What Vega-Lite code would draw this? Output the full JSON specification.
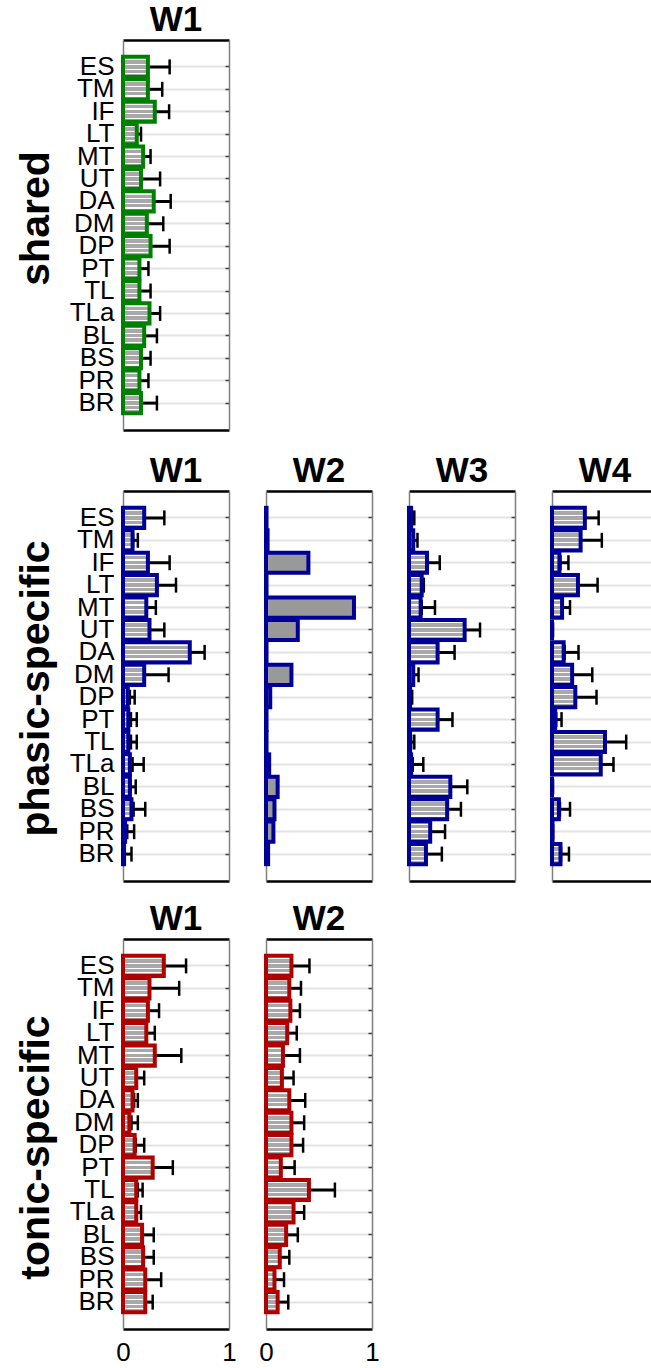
{
  "$schema": "https://vega.github.io/schema/vega-lite/v6.json",
  "padding": {"left": 15, "top": 3, "right": 0, "bottom": 0},
  "config": {"font": "Liberation Sans", "view": {"stroke": null}},
  "data": {"values": [
    {"g":"s","w":"W1","m":"ES","v":0.235,"lo":0.03,"hi":0.44},
    {"g":"s","w":"W1","m":"TM","v":0.235,"lo":0.1,"hi":0.37},
    {"g":"s","w":"W1","m":"IF","v":0.3,"lo":0.165,"hi":0.435},
    {"g":"s","w":"W1","m":"LT","v":0.13,"lo":0.09,"hi":0.17},
    {"g":"s","w":"W1","m":"MT","v":0.19,"lo":0.12,"hi":0.26},
    {"g":"s","w":"W1","m":"UT","v":0.17,"lo":0.0,"hi":0.35},
    {"g":"s","w":"W1","m":"DA","v":0.29,"lo":0.13,"hi":0.45},
    {"g":"s","w":"W1","m":"DM","v":0.225,"lo":0.07,"hi":0.38},
    {"g":"s","w":"W1","m":"DP","v":0.26,"lo":0.08,"hi":0.44},
    {"g":"s","w":"W1","m":"PT","v":0.155,"lo":0.07,"hi":0.24},
    {"g":"s","w":"W1","m":"TL","v":0.155,"lo":0.05,"hi":0.26},
    {"g":"s","w":"W1","m":"TLa","v":0.25,"lo":0.15,"hi":0.35},
    {"g":"s","w":"W1","m":"BL","v":0.2,"lo":0.08,"hi":0.32},
    {"g":"s","w":"W1","m":"BS","v":0.17,"lo":0.08,"hi":0.26},
    {"g":"s","w":"W1","m":"PR","v":0.155,"lo":0.07,"hi":0.24},
    {"g":"s","w":"W1","m":"BR","v":0.17,"lo":0.02,"hi":0.32},

    {"g":"p","w":"W1","m":"ES","v":0.2,"lo":0.01,"hi":0.39},
    {"g":"p","w":"W1","m":"TM","v":0.09,"lo":0.095,"hi":0.14},
    {"g":"p","w":"W1","m":"IF","v":0.235,"lo":0.03,"hi":0.44},
    {"g":"p","w":"W1","m":"LT","v":0.32,"lo":0.14,"hi":0.5},
    {"g":"p","w":"W1","m":"MT","v":0.22,"lo":0.13,"hi":0.31},
    {"g":"p","w":"W1","m":"UT","v":0.25,"lo":0.11,"hi":0.39},
    {"g":"p","w":"W1","m":"DA","v":0.63,"lo":0.49,"hi":0.77},
    {"g":"p","w":"W1","m":"DM","v":0.2,"lo":0.0,"hi":0.43},
    {"g":"p","w":"W1","m":"DP","v":0.045,"lo":0.065,"hi":0.11},
    {"g":"p","w":"W1","m":"PT","v":0.05,"lo":0.075,"hi":0.13},
    {"g":"p","w":"W1","m":"TL","v":0.05,"lo":0.075,"hi":0.13},
    {"g":"p","w":"W1","m":"TLa","v":0.065,"lo":0.09,"hi":0.195},
    {"g":"p","w":"W1","m":"BL","v":0.065,"lo":0.07,"hi":0.12},
    {"g":"p","w":"W1","m":"BS","v":0.08,"lo":0.1,"hi":0.21},
    {"g":"p","w":"W1","m":"PR","v":0.02,"lo":0.04,"hi":0.105},
    {"g":"p","w":"W1","m":"BR","v":0.01,"lo":0.015,"hi":0.08},

    {"g":"p","w":"W2","m":"ES","v":0.005,"lo":null,"hi":null},
    {"g":"p","w":"W2","m":"TM","v":0.015,"lo":null,"hi":null},
    {"g":"p","w":"W2","m":"IF","v":0.40,"lo":null,"hi":null},
    {"g":"p","w":"W2","m":"LT","v":0.005,"lo":null,"hi":null},
    {"g":"p","w":"W2","m":"MT","v":0.83,"lo":null,"hi":null},
    {"g":"p","w":"W2","m":"UT","v":0.30,"lo":null,"hi":null},
    {"g":"p","w":"W2","m":"DA","v":0.005,"lo":null,"hi":null},
    {"g":"p","w":"W2","m":"DM","v":0.24,"lo":null,"hi":null},
    {"g":"p","w":"W2","m":"DP","v":0.04,"lo":null,"hi":null},
    {"g":"p","w":"W2","m":"PT","v":0.005,"lo":null,"hi":null},
    {"g":"p","w":"W2","m":"TL","v":0.005,"lo":null,"hi":null},
    {"g":"p","w":"W2","m":"TLa","v":0.03,"lo":null,"hi":null},
    {"g":"p","w":"W2","m":"BL","v":0.11,"lo":null,"hi":null},
    {"g":"p","w":"W2","m":"BS","v":0.08,"lo":null,"hi":null},
    {"g":"p","w":"W2","m":"PR","v":0.07,"lo":null,"hi":null},
    {"g":"p","w":"W2","m":"BR","v":0.02,"lo":null,"hi":null},

    {"g":"p","w":"W3","m":"ES","v":0.02,"lo":0.02,"hi":0.05},
    {"g":"p","w":"W3","m":"TM","v":0.04,"lo":0.045,"hi":0.08},
    {"g":"p","w":"W3","m":"IF","v":0.17,"lo":0.05,"hi":0.29},
    {"g":"p","w":"W3","m":"LT","v":0.12,"lo":0.1,"hi":0.14},
    {"g":"p","w":"W3","m":"MT","v":0.11,"lo":0.12,"hi":0.245},
    {"g":"p","w":"W3","m":"UT","v":0.525,"lo":0.38,"hi":0.67},
    {"g":"p","w":"W3","m":"DA","v":0.27,"lo":0.11,"hi":0.43},
    {"g":"p","w":"W3","m":"DM","v":0.04,"lo":0.045,"hi":0.09},
    {"g":"p","w":"W3","m":"DP","v":0.01,"lo":0.01,"hi":0.03},
    {"g":"p","w":"W3","m":"PT","v":0.27,"lo":0.13,"hi":0.41},
    {"g":"p","w":"W3","m":"TL","v":0.01,"lo":0.02,"hi":0.05},
    {"g":"p","w":"W3","m":"TLa","v":0.02,"lo":0.035,"hi":0.135},
    {"g":"p","w":"W3","m":"BL","v":0.39,"lo":0.23,"hi":0.55},
    {"g":"p","w":"W3","m":"BS","v":0.36,"lo":0.23,"hi":0.49},
    {"g":"p","w":"W3","m":"PR","v":0.20,"lo":0.06,"hi":0.34},
    {"g":"p","w":"W3","m":"BR","v":0.16,"lo":0.01,"hi":0.31},

    {"g":"p","w":"W4","m":"ES","v":0.31,"lo":0.18,"hi":0.44},
    {"g":"p","w":"W4","m":"TM","v":0.27,"lo":0.07,"hi":0.47},
    {"g":"p","w":"W4","m":"IF","v":0.07,"lo":0.08,"hi":0.155},
    {"g":"p","w":"W4","m":"LT","v":0.245,"lo":0.06,"hi":0.43},
    {"g":"p","w":"W4","m":"MT","v":0.095,"lo":0.1,"hi":0.17},
    {"g":"p","w":"W4","m":"UT","v":0.0,"lo":0.0,"hi":0.01},
    {"g":"p","w":"W4","m":"DA","v":0.11,"lo":0.12,"hi":0.25},
    {"g":"p","w":"W4","m":"DM","v":0.19,"lo":0.0,"hi":0.38},
    {"g":"p","w":"W4","m":"DP","v":0.22,"lo":0.02,"hi":0.42},
    {"g":"p","w":"W4","m":"PT","v":0.03,"lo":0.04,"hi":0.09},
    {"g":"p","w":"W4","m":"TL","v":0.50,"lo":0.30,"hi":0.70},
    {"g":"p","w":"W4","m":"TLa","v":0.46,"lo":0.34,"hi":0.58},
    {"g":"p","w":"W4","m":"BL","v":0.0,"lo":0.0,"hi":0.01},
    {"g":"p","w":"W4","m":"BS","v":0.065,"lo":0.075,"hi":0.17},
    {"g":"p","w":"W4","m":"PR","v":0.005,"lo":0.0,"hi":0.01},
    {"g":"p","w":"W4","m":"BR","v":0.08,"lo":0.085,"hi":0.16},

    {"g":"t","w":"W1","m":"ES","v":0.385,"lo":0.175,"hi":0.595},
    {"g":"t","w":"W1","m":"TM","v":0.25,"lo":0.0,"hi":0.53},
    {"g":"t","w":"W1","m":"IF","v":0.235,"lo":0.13,"hi":0.34},
    {"g":"t","w":"W1","m":"LT","v":0.22,"lo":0.14,"hi":0.30},
    {"g":"t","w":"W1","m":"MT","v":0.3,"lo":0.05,"hi":0.55},
    {"g":"t","w":"W1","m":"UT","v":0.125,"lo":0.13,"hi":0.2},
    {"g":"t","w":"W1","m":"DA","v":0.09,"lo":0.105,"hi":0.14},
    {"g":"t","w":"W1","m":"DM","v":0.06,"lo":0.08,"hi":0.14},
    {"g":"t","w":"W1","m":"DP","v":0.11,"lo":0.12,"hi":0.2},
    {"g":"t","w":"W1","m":"PT","v":0.28,"lo":0.09,"hi":0.47},
    {"g":"t","w":"W1","m":"TL","v":0.125,"lo":0.14,"hi":0.185},
    {"g":"t","w":"W1","m":"TLa","v":0.125,"lo":0.13,"hi":0.17},
    {"g":"t","w":"W1","m":"BL","v":0.18,"lo":0.07,"hi":0.29},
    {"g":"t","w":"W1","m":"BS","v":0.19,"lo":0.09,"hi":0.29},
    {"g":"t","w":"W1","m":"PR","v":0.21,"lo":0.06,"hi":0.36},
    {"g":"t","w":"W1","m":"BR","v":0.21,"lo":0.14,"hi":0.28},

    {"g":"t","w":"W2","m":"ES","v":0.24,"lo":0.07,"hi":0.41},
    {"g":"t","w":"W2","m":"TM","v":0.22,"lo":0.11,"hi":0.33},
    {"g":"t","w":"W2","m":"IF","v":0.23,"lo":0.14,"hi":0.32},
    {"g":"t","w":"W2","m":"LT","v":0.2,"lo":0.11,"hi":0.29},
    {"g":"t","w":"W2","m":"MT","v":0.16,"lo":0.0,"hi":0.32},
    {"g":"t","w":"W2","m":"UT","v":0.15,"lo":0.04,"hi":0.26},
    {"g":"t","w":"W2","m":"DA","v":0.22,"lo":0.07,"hi":0.37},
    {"g":"t","w":"W2","m":"DM","v":0.24,"lo":0.12,"hi":0.36},
    {"g":"t","w":"W2","m":"DP","v":0.24,"lo":0.13,"hi":0.35},
    {"g":"t","w":"W2","m":"PT","v":0.14,"lo":0.01,"hi":0.27},
    {"g":"t","w":"W2","m":"TL","v":0.405,"lo":0.16,"hi":0.65},
    {"g":"t","w":"W2","m":"TLa","v":0.26,"lo":0.16,"hi":0.36},
    {"g":"t","w":"W2","m":"BL","v":0.19,"lo":0.08,"hi":0.30},
    {"g":"t","w":"W2","m":"BS","v":0.13,"lo":0.04,"hi":0.22},
    {"g":"t","w":"W2","m":"PR","v":0.08,"lo":0.0,"hi":0.17},
    {"g":"t","w":"W2","m":"BR","v":0.11,"lo":0.01,"hi":0.21}
  ]},
  "spacing": 24,
  "vconcat": [
    {"hconcat": [
      {"width": 106, "height": 390,
       "title": {"text": "W1", "fontSize": 35, "fontWeight": "bold", "color": "black", "offset": 2},
       "transform": [{"filter": "datum.g == 's' && datum.w == 'W1'"}],
       "layer": [
         {"mark": {"type": "rule", "color": "black", "strokeWidth": 3},
          "encoding": {
            "x": {"field": "lo", "type": "quantitative", "scale": {"domain": [0, 1], "nice": false, "zero": false}, "axis": {"orient": "top", "labels": false, "ticks": false, "grid": false, "domainColor": "black", "domainWidth": 2.5, "title": null}},
            "x2": {"field": "hi"},
            "y": {"field": "m", "type": "nominal", "sort": null, "scale": {"domain": ["ES","TM","IF","LT","MT","UT","DA","DM","DP","PT","TL","TLa","BL","BS","PR","BR"], "paddingOuter": 0.7, "paddingInner": 0}, "axis": {"orient": "right", "labels": false, "domain": true, "domainColor": "#7f7f7f", "domainWidth": 1.5, "grid": false, "ticks": true, "tickSize": -4, "tickColor": "#404040", "tickWidth": 1.5, "title": null}}}},
         {"mark": {"type": "tick", "color": "black", "thickness": 2.5, "size": 15, "opacity": 1},
          "encoding": {"x": {"field": "hi", "type": "quantitative", "axis": null}, "y": {"field": "m", "type": "nominal", "sort": null, "axis": null}}},
         {"mark": {"type": "tick", "color": "black", "thickness": 2.5, "size": 15, "opacity": 1},
          "encoding": {"x": {"field": "lo", "type": "quantitative", "axis": null}, "y": {"field": "m", "type": "nominal", "sort": null, "axis": null}}},
         {"mark": {"type": "bar", "stroke": "#008000", "strokeWidth": 4, "height": {"band": 0.9},
                   "fill": {"gradient": "linear", "x1": 0, "y1": 0, "x2": 0, "y2": 1, "stops": [
                     {"offset": 0, "color": "#ffffff"}, {"offset": 0.16, "color": "#ffffff"}, {"offset": 0.16, "color": "#a8a8a8"}, {"offset": 0.34, "color": "#a8a8a8"}, {"offset": 0.34, "color": "#ffffff"}, {"offset": 0.40, "color": "#ffffff"}, {"offset": 0.40, "color": "#a8a8a8"}, {"offset": 0.58, "color": "#a8a8a8"}, {"offset": 0.58, "color": "#ffffff"}, {"offset": 0.63, "color": "#ffffff"}, {"offset": 0.63, "color": "#a8a8a8"}, {"offset": 0.80, "color": "#a8a8a8"}, {"offset": 0.80, "color": "#ffffff"}, {"offset": 0.86, "color": "#ffffff"}, {"offset": 0.86, "color": "#a8a8a8"}, {"offset": 1, "color": "#a8a8a8"}]}},
          "encoding": {
            "x": {"field": "v", "type": "quantitative", "axis": {"orient": "bottom", "labels": false, "ticks": false, "grid": false, "domainColor": "black", "domainWidth": 2.5, "title": null}},
            "y": {"field": "m", "type": "nominal", "sort": null, "axis": {"orient": "left", "labelFontSize": 26, "labelColor": "black", "labelPadding": 9, "ticks": false, "tickSize": 0, "domainColor": "#7f7f7f", "domainWidth": 1.5, "grid": true, "gridColor": "#e3e3e3", "gridWidth": 2, "bandPosition": 0.5, "title": "shared", "titleFontSize": 41, "titleFontWeight": "bold", "titleColor": "black", "titleX": -75, "titleY": 178, "titleBaseline": "alphabetic", "titleAlign": "center", "titleAngle": -90}}}}
       ],
       "resolve": {"axis": {"x": "independent", "y": "independent"}}}
    ]},
    {"spacing": 21, "vconcat": [
    {"spacing": 37, "bounds": "flush", "hconcat": [
      {"width": 106, "height": 390,
       "title": {"text": "W1", "fontSize": 35, "fontWeight": "bold", "color": "black", "offset": 2},
       "transform": [{"filter": "datum.g == 'p' && datum.w == 'W1'"}],
       "layer": [
         {"mark": {"type": "rule", "color": "black", "strokeWidth": 3},
          "encoding": {
            "x": {"field": "lo", "type": "quantitative", "scale": {"domain": [0, 1], "nice": false, "zero": false}, "axis": {"orient": "top", "labels": false, "ticks": false, "grid": false, "domainColor": "black", "domainWidth": 2.5, "title": null}},
            "x2": {"field": "hi"},
            "y": {"field": "m", "type": "nominal", "sort": null, "scale": {"domain": ["ES","TM","IF","LT","MT","UT","DA","DM","DP","PT","TL","TLa","BL","BS","PR","BR"], "paddingOuter": 0.7, "paddingInner": 0}, "axis": {"orient": "right", "labels": false, "domain": true, "domainColor": "#7f7f7f", "domainWidth": 1.5, "grid": false, "ticks": true, "tickSize": -4, "tickColor": "#404040", "tickWidth": 1.5, "title": null}}}},
         {"mark": {"type": "tick", "color": "black", "thickness": 2.5, "size": 15, "opacity": 1},
          "encoding": {"x": {"field": "hi", "type": "quantitative", "axis": null}, "y": {"field": "m", "type": "nominal", "sort": null, "axis": null}}},
         {"mark": {"type": "tick", "color": "black", "thickness": 2.5, "size": 15, "opacity": 1},
          "encoding": {"x": {"field": "lo", "type": "quantitative", "axis": null}, "y": {"field": "m", "type": "nominal", "sort": null, "axis": null}}},
         {"mark": {"type": "bar", "stroke": "#000099", "strokeWidth": 4, "height": {"band": 0.9},
                   "fill": {"gradient": "linear", "x1": 0, "y1": 0, "x2": 0, "y2": 1, "stops": [
                     {"offset": 0, "color": "#ffffff"}, {"offset": 0.16, "color": "#ffffff"}, {"offset": 0.16, "color": "#a8a8a8"}, {"offset": 0.34, "color": "#a8a8a8"}, {"offset": 0.34, "color": "#ffffff"}, {"offset": 0.40, "color": "#ffffff"}, {"offset": 0.40, "color": "#a8a8a8"}, {"offset": 0.58, "color": "#a8a8a8"}, {"offset": 0.58, "color": "#ffffff"}, {"offset": 0.63, "color": "#ffffff"}, {"offset": 0.63, "color": "#a8a8a8"}, {"offset": 0.80, "color": "#a8a8a8"}, {"offset": 0.80, "color": "#ffffff"}, {"offset": 0.86, "color": "#ffffff"}, {"offset": 0.86, "color": "#a8a8a8"}, {"offset": 1, "color": "#a8a8a8"}]}},
          "encoding": {
            "x": {"field": "v", "type": "quantitative", "axis": {"orient": "bottom", "labels": false, "ticks": false, "grid": false, "domainColor": "black", "domainWidth": 2.5, "title": null}},
            "y": {"field": "m", "type": "nominal", "sort": null, "axis": {"orient": "left", "labelFontSize": 26, "labelColor": "black", "labelPadding": 9, "ticks": false, "tickSize": 0, "domainColor": "#7f7f7f", "domainWidth": 1.5, "grid": true, "gridColor": "#e3e3e3", "gridWidth": 2, "bandPosition": 0.5, "title": "phasic-specific", "titleFontSize": 41, "titleFontWeight": "bold", "titleColor": "black", "titleX": -75, "titleY": 197, "titleBaseline": "alphabetic", "titleAlign": "center", "titleAngle": -90}}}}
       ],
       "resolve": {"axis": {"x": "independent", "y": "independent"}}},
      {"width": 106, "height": 390,
       "title": {"text": "W2", "fontSize": 35, "fontWeight": "bold", "color": "black", "offset": 2},
       "transform": [{"filter": "datum.g == 'p' && datum.w == 'W2'"}],
       "layer": [
         {"mark": {"type": "rule", "color": "black", "strokeWidth": 3},
          "encoding": {
            "x": {"field": "lo", "type": "quantitative", "scale": {"domain": [0, 1], "nice": false, "zero": false}, "axis": {"orient": "top", "labels": false, "ticks": false, "grid": false, "domainColor": "black", "domainWidth": 2.5, "title": null}},
            "x2": {"field": "hi"},
            "y": {"field": "m", "type": "nominal", "sort": null, "scale": {"domain": ["ES","TM","IF","LT","MT","UT","DA","DM","DP","PT","TL","TLa","BL","BS","PR","BR"], "paddingOuter": 0.7, "paddingInner": 0}, "axis": {"orient": "right", "labels": false, "domain": true, "domainColor": "#7f7f7f", "domainWidth": 1.5, "grid": false, "ticks": true, "tickSize": -4, "tickColor": "#404040", "tickWidth": 1.5, "title": null}}}},
         {"mark": {"type": "bar", "stroke": "#000099", "strokeWidth": 4, "height": {"band": 0.9}, "fill": "#999999"},
          "encoding": {
            "x": {"field": "v", "type": "quantitative", "axis": {"orient": "bottom", "labels": false, "ticks": false, "grid": false, "domainColor": "black", "domainWidth": 2.5, "title": null}},
            "y": {"field": "m", "type": "nominal", "sort": null, "axis": {"orient": "left", "labels": false, "ticks": false, "tickSize": 0, "domainColor": "#7f7f7f", "domainWidth": 1.5, "grid": true, "gridColor": "#e3e3e3", "gridWidth": 2, "bandPosition": 0.5, "title": null}}}}
       ],
       "resolve": {"axis": {"x": "independent", "y": "independent"}}},
      {"width": 106, "height": 390,
       "title": {"text": "W3", "fontSize": 35, "fontWeight": "bold", "color": "black", "offset": 2},
       "transform": [{"filter": "datum.g == 'p' && datum.w == 'W3'"}],
       "layer": [
         {"mark": {"type": "rule", "color": "black", "strokeWidth": 3},
          "encoding": {
            "x": {"field": "lo", "type": "quantitative", "scale": {"domain": [0, 1], "nice": false, "zero": false}, "axis": {"orient": "top", "labels": false, "ticks": false, "grid": false, "domainColor": "black", "domainWidth": 2.5, "title": null}},
            "x2": {"field": "hi"},
            "y": {"field": "m", "type": "nominal", "sort": null, "scale": {"domain": ["ES","TM","IF","LT","MT","UT","DA","DM","DP","PT","TL","TLa","BL","BS","PR","BR"], "paddingOuter": 0.7, "paddingInner": 0}, "axis": {"orient": "right", "labels": false, "domain": true, "domainColor": "#7f7f7f", "domainWidth": 1.5, "grid": false, "ticks": true, "tickSize": -4, "tickColor": "#404040", "tickWidth": 1.5, "title": null}}}},
         {"mark": {"type": "tick", "color": "black", "thickness": 2.5, "size": 15, "opacity": 1},
          "encoding": {"x": {"field": "hi", "type": "quantitative", "axis": null}, "y": {"field": "m", "type": "nominal", "sort": null, "axis": null}}},
         {"mark": {"type": "tick", "color": "black", "thickness": 2.5, "size": 15, "opacity": 1},
          "encoding": {"x": {"field": "lo", "type": "quantitative", "axis": null}, "y": {"field": "m", "type": "nominal", "sort": null, "axis": null}}},
         {"mark": {"type": "bar", "stroke": "#000099", "strokeWidth": 4, "height": {"band": 0.9},
                   "fill": {"gradient": "linear", "x1": 0, "y1": 0, "x2": 0, "y2": 1, "stops": [
                     {"offset": 0, "color": "#ffffff"}, {"offset": 0.16, "color": "#ffffff"}, {"offset": 0.16, "color": "#a8a8a8"}, {"offset": 0.34, "color": "#a8a8a8"}, {"offset": 0.34, "color": "#ffffff"}, {"offset": 0.40, "color": "#ffffff"}, {"offset": 0.40, "color": "#a8a8a8"}, {"offset": 0.58, "color": "#a8a8a8"}, {"offset": 0.58, "color": "#ffffff"}, {"offset": 0.63, "color": "#ffffff"}, {"offset": 0.63, "color": "#a8a8a8"}, {"offset": 0.80, "color": "#a8a8a8"}, {"offset": 0.80, "color": "#ffffff"}, {"offset": 0.86, "color": "#ffffff"}, {"offset": 0.86, "color": "#a8a8a8"}, {"offset": 1, "color": "#a8a8a8"}]}},
          "encoding": {
            "x": {"field": "v", "type": "quantitative", "axis": {"orient": "bottom", "labels": false, "ticks": false, "grid": false, "domainColor": "black", "domainWidth": 2.5, "title": null}},
            "y": {"field": "m", "type": "nominal", "sort": null, "axis": {"orient": "left", "labels": false, "ticks": false, "tickSize": 0, "domainColor": "#7f7f7f", "domainWidth": 1.5, "grid": true, "gridColor": "#e3e3e3", "gridWidth": 2, "bandPosition": 0.5, "title": null}}}}
       ],
       "resolve": {"axis": {"x": "independent", "y": "independent"}}},
      {"width": 106, "height": 390,
       "title": {"text": "W4", "fontSize": 35, "fontWeight": "bold", "color": "black", "offset": 2},
       "transform": [{"filter": "datum.g == 'p' && datum.w == 'W4'"}],
       "layer": [
         {"mark": {"type": "rule", "color": "black", "strokeWidth": 3},
          "encoding": {
            "x": {"field": "lo", "type": "quantitative", "scale": {"domain": [0, 1], "nice": false, "zero": false}, "axis": {"orient": "top", "labels": false, "ticks": false, "grid": false, "domainColor": "black", "domainWidth": 2.5, "title": null}},
            "x2": {"field": "hi"},
            "y": {"field": "m", "type": "nominal", "sort": null, "scale": {"domain": ["ES","TM","IF","LT","MT","UT","DA","DM","DP","PT","TL","TLa","BL","BS","PR","BR"], "paddingOuter": 0.7, "paddingInner": 0}, "axis": {"orient": "right", "labels": false, "domain": true, "domainColor": "#7f7f7f", "domainWidth": 1.5, "grid": false, "ticks": true, "tickSize": -4, "tickColor": "#404040", "tickWidth": 1.5, "title": null}}}},
         {"mark": {"type": "tick", "color": "black", "thickness": 2.5, "size": 15, "opacity": 1},
          "encoding": {"x": {"field": "hi", "type": "quantitative", "axis": null}, "y": {"field": "m", "type": "nominal", "sort": null, "axis": null}}},
         {"mark": {"type": "tick", "color": "black", "thickness": 2.5, "size": 15, "opacity": 1},
          "encoding": {"x": {"field": "lo", "type": "quantitative", "axis": null}, "y": {"field": "m", "type": "nominal", "sort": null, "axis": null}}},
         {"mark": {"type": "bar", "stroke": "#000099", "strokeWidth": 4, "height": {"band": 0.9},
                   "fill": {"gradient": "linear", "x1": 0, "y1": 0, "x2": 0, "y2": 1, "stops": [
                     {"offset": 0, "color": "#ffffff"}, {"offset": 0.16, "color": "#ffffff"}, {"offset": 0.16, "color": "#a8a8a8"}, {"offset": 0.34, "color": "#a8a8a8"}, {"offset": 0.34, "color": "#ffffff"}, {"offset": 0.40, "color": "#ffffff"}, {"offset": 0.40, "color": "#a8a8a8"}, {"offset": 0.58, "color": "#a8a8a8"}, {"offset": 0.58, "color": "#ffffff"}, {"offset": 0.63, "color": "#ffffff"}, {"offset": 0.63, "color": "#a8a8a8"}, {"offset": 0.80, "color": "#a8a8a8"}, {"offset": 0.80, "color": "#ffffff"}, {"offset": 0.86, "color": "#ffffff"}, {"offset": 0.86, "color": "#a8a8a8"}, {"offset": 1, "color": "#a8a8a8"}]}},
          "encoding": {
            "x": {"field": "v", "type": "quantitative", "axis": {"orient": "bottom", "labels": false, "ticks": false, "grid": false, "domainColor": "black", "domainWidth": 2.5, "title": null}},
            "y": {"field": "m", "type": "nominal", "sort": null, "axis": {"orient": "left", "labels": false, "ticks": false, "tickSize": 0, "domainColor": "#7f7f7f", "domainWidth": 1.5, "grid": true, "gridColor": "#e3e3e3", "gridWidth": 2, "bandPosition": 0.5, "title": null}}}}
       ],
       "resolve": {"axis": {"x": "independent", "y": "independent"}}}
    ]},
    {"spacing": 37, "bounds": "flush", "hconcat": [
      {"width": 106, "height": 390,
       "title": {"text": "W1", "fontSize": 35, "fontWeight": "bold", "color": "black", "offset": 2},
       "transform": [{"filter": "datum.g == 't' && datum.w == 'W1'"}],
       "layer": [
         {"mark": {"type": "rule", "color": "black", "strokeWidth": 3},
          "encoding": {
            "x": {"field": "lo", "type": "quantitative", "scale": {"domain": [0, 1], "nice": false, "zero": false}, "axis": {"orient": "top", "labels": false, "ticks": false, "grid": false, "domainColor": "black", "domainWidth": 2.5, "title": null}},
            "x2": {"field": "hi"},
            "y": {"field": "m", "type": "nominal", "sort": null, "scale": {"domain": ["ES","TM","IF","LT","MT","UT","DA","DM","DP","PT","TL","TLa","BL","BS","PR","BR"], "paddingOuter": 0.7, "paddingInner": 0}, "axis": {"orient": "right", "labels": false, "domain": true, "domainColor": "#7f7f7f", "domainWidth": 1.5, "grid": false, "ticks": true, "tickSize": -4, "tickColor": "#404040", "tickWidth": 1.5, "title": null}}}},
         {"mark": {"type": "tick", "color": "black", "thickness": 2.5, "size": 15, "opacity": 1},
          "encoding": {"x": {"field": "hi", "type": "quantitative", "axis": null}, "y": {"field": "m", "type": "nominal", "sort": null, "axis": null}}},
         {"mark": {"type": "tick", "color": "black", "thickness": 2.5, "size": 15, "opacity": 1},
          "encoding": {"x": {"field": "lo", "type": "quantitative", "axis": null}, "y": {"field": "m", "type": "nominal", "sort": null, "axis": null}}},
         {"mark": {"type": "bar", "stroke": "#b00000", "strokeWidth": 4, "height": {"band": 0.9},
                   "fill": {"gradient": "linear", "x1": 0, "y1": 0, "x2": 0, "y2": 1, "stops": [
                     {"offset": 0, "color": "#ffffff"}, {"offset": 0.16, "color": "#ffffff"}, {"offset": 0.16, "color": "#a8a8a8"}, {"offset": 0.34, "color": "#a8a8a8"}, {"offset": 0.34, "color": "#ffffff"}, {"offset": 0.40, "color": "#ffffff"}, {"offset": 0.40, "color": "#a8a8a8"}, {"offset": 0.58, "color": "#a8a8a8"}, {"offset": 0.58, "color": "#ffffff"}, {"offset": 0.63, "color": "#ffffff"}, {"offset": 0.63, "color": "#a8a8a8"}, {"offset": 0.80, "color": "#a8a8a8"}, {"offset": 0.80, "color": "#ffffff"}, {"offset": 0.86, "color": "#ffffff"}, {"offset": 0.86, "color": "#a8a8a8"}, {"offset": 1, "color": "#a8a8a8"}]}},
          "encoding": {
            "x": {"field": "v", "type": "quantitative", "axis": {"orient": "bottom", "values": [0, 1], "format": "d", "labelFontSize": 26, "labelColor": "black", "labelPadding": 10, "labelFlush": false, "ticks": false, "tickSize": 0, "grid": false, "domainColor": "black", "domainWidth": 2.5, "title": null}},
            "y": {"field": "m", "type": "nominal", "sort": null, "axis": {"orient": "left", "labelFontSize": 26, "labelColor": "black", "labelPadding": 9, "ticks": false, "tickSize": 0, "domainColor": "#7f7f7f", "domainWidth": 1.5, "grid": true, "gridColor": "#e3e3e3", "gridWidth": 2, "bandPosition": 0.5, "title": "tonic-specific", "titleFontSize": 41, "titleFontWeight": "bold", "titleColor": "black", "titleX": -75, "titleY": 208, "titleBaseline": "alphabetic", "titleAlign": "center", "titleAngle": -90}}}}
       ],
       "resolve": {"axis": {"x": "independent", "y": "independent"}}},
      {"width": 106, "height": 390,
       "title": {"text": "W2", "fontSize": 35, "fontWeight": "bold", "color": "black", "offset": 2},
       "transform": [{"filter": "datum.g == 't' && datum.w == 'W2'"}],
       "layer": [
         {"mark": {"type": "rule", "color": "black", "strokeWidth": 3},
          "encoding": {
            "x": {"field": "lo", "type": "quantitative", "scale": {"domain": [0, 1], "nice": false, "zero": false}, "axis": {"orient": "top", "labels": false, "ticks": false, "grid": false, "domainColor": "black", "domainWidth": 2.5, "title": null}},
            "x2": {"field": "hi"},
            "y": {"field": "m", "type": "nominal", "sort": null, "scale": {"domain": ["ES","TM","IF","LT","MT","UT","DA","DM","DP","PT","TL","TLa","BL","BS","PR","BR"], "paddingOuter": 0.7, "paddingInner": 0}, "axis": {"orient": "right", "labels": false, "domain": true, "domainColor": "#7f7f7f", "domainWidth": 1.5, "grid": false, "ticks": true, "tickSize": -4, "tickColor": "#404040", "tickWidth": 1.5, "title": null}}}},
         {"mark": {"type": "tick", "color": "black", "thickness": 2.5, "size": 15, "opacity": 1},
          "encoding": {"x": {"field": "hi", "type": "quantitative", "axis": null}, "y": {"field": "m", "type": "nominal", "sort": null, "axis": null}}},
         {"mark": {"type": "tick", "color": "black", "thickness": 2.5, "size": 15, "opacity": 1},
          "encoding": {"x": {"field": "lo", "type": "quantitative", "axis": null}, "y": {"field": "m", "type": "nominal", "sort": null, "axis": null}}},
         {"mark": {"type": "bar", "stroke": "#b00000", "strokeWidth": 4, "height": {"band": 0.9},
                   "fill": {"gradient": "linear", "x1": 0, "y1": 0, "x2": 0, "y2": 1, "stops": [
                     {"offset": 0, "color": "#ffffff"}, {"offset": 0.16, "color": "#ffffff"}, {"offset": 0.16, "color": "#a8a8a8"}, {"offset": 0.34, "color": "#a8a8a8"}, {"offset": 0.34, "color": "#ffffff"}, {"offset": 0.40, "color": "#ffffff"}, {"offset": 0.40, "color": "#a8a8a8"}, {"offset": 0.58, "color": "#a8a8a8"}, {"offset": 0.58, "color": "#ffffff"}, {"offset": 0.63, "color": "#ffffff"}, {"offset": 0.63, "color": "#a8a8a8"}, {"offset": 0.80, "color": "#a8a8a8"}, {"offset": 0.80, "color": "#ffffff"}, {"offset": 0.86, "color": "#ffffff"}, {"offset": 0.86, "color": "#a8a8a8"}, {"offset": 1, "color": "#a8a8a8"}]}},
          "encoding": {
            "x": {"field": "v", "type": "quantitative", "axis": {"orient": "bottom", "values": [0, 1], "format": "d", "labelFontSize": 26, "labelColor": "black", "labelPadding": 10, "labelFlush": false, "ticks": false, "tickSize": 0, "grid": false, "domainColor": "black", "domainWidth": 2.5, "title": null}},
            "y": {"field": "m", "type": "nominal", "sort": null, "axis": {"orient": "left", "labels": false, "ticks": false, "tickSize": 0, "domainColor": "#7f7f7f", "domainWidth": 1.5, "grid": true, "gridColor": "#e3e3e3", "gridWidth": 2, "bandPosition": 0.5, "title": null}}}}
       ],
       "resolve": {"axis": {"x": "independent", "y": "independent"}}}
    ]}
    ]}
  ]
}
